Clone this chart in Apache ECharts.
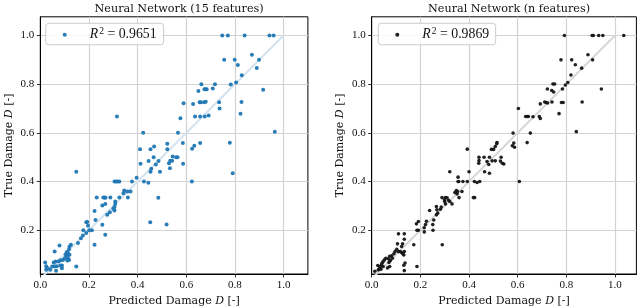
<!DOCTYPE html>
<html><head><meta charset="utf-8">
<script src="https://cdn.jsdelivr.net/npm/echarts@6/dist/echarts.min.js"></script>
<style>html,body{margin:0;padding:0;background:#fff}#c{width:640px;height:308px}</style>
</head><body><div id="c"></div>
<script>
const titles = ['Neural Network (15 features)', 'Neural Network (n features)'];
const r2Values = ['0.9651', '0.9869'];
const seriesNames = ['r2_15', 'r2_n'];
const xTickValues = [0.0, 0.2, 0.4, 0.6, 0.8, 1.0];
const yTickValues = [0.2, 0.4, 0.6, 0.8, 1.0];
const identityLine = [[0, 0], [1, 1]];

// [predicted, true] — 15 features
const points15 = [
[0.748,1.0],[0.771,1.0],[0.840,1.0],[0.942,1.0],[0.959,1.0],
[0.756,0.9],[0.870,0.921],[0.799,0.9],[0.899,0.9],[0.812,0.879],[0.890,0.867],[0.828,0.837],[0.805,0.807],[0.783,0.799],[0.718,0.8],[0.662,0.8],
[0.650,0.772],[0.675,0.779],[0.679,0.779],[0.684,0.779],[0.709,0.782],[0.916,0.777],
[0.655,0.726],[0.660,0.726],[0.673,0.726],[0.680,0.728],[0.628,0.719],[0.589,0.722],[0.735,0.726],[0.737,0.700],[0.827,0.727],[0.823,0.679],
[0.636,0.667],[0.657,0.667],[0.676,0.667],[0.692,0.671],[0.576,0.660],[0.315,0.667],[0.964,0.605],[0.566,0.6],[0.423,0.6],
[0.586,0.558],[0.657,0.558],[0.633,0.547],[0.624,0.535],[0.522,0.555],[0.468,0.544],[0.410,0.533],[0.453,0.533],[0.522,0.533],[0.779,0.559],
[0.544,0.503],[0.558,0.5],[0.564,0.5],[0.466,0.5],[0.542,0.485],[0.534,0.485],[0.486,0.484],[0.445,0.484],[0.529,0.475],[0.412,0.473],[0.475,0.470],[0.587,0.473],[0.456,0.453],[0.533,0.455],[0.453,0.44],[0.492,0.44],[0.148,0.44],[0.396,0.416],[0.791,0.434],
[0.305,0.4],[0.311,0.4],[0.318,0.4],[0.325,0.4],[0.377,0.4],[0.426,0.4],[0.444,0.395],[0.623,0.4],
[0.345,0.363],[0.342,0.352],[0.358,0.359],[0.371,0.359],[0.360,0.334],[0.325,0.334],[0.308,0.318],[0.308,0.308],[0.305,0.295],[0.305,0.281],[0.300,0.288],[0.286,0.274],[0.275,0.264],[0.288,0.334],[0.267,0.308],[0.268,0.333],[0.259,0.334],[0.264,0.334],[0.232,0.334],[0.255,0.301],[0.223,0.279],[0.227,0.242],[0.193,0.234],[0.255,0.222],[0.485,0.333],[0.452,0.233],[0.519,0.223],[0.267,0.181],[0.223,0.140],
[0.177,0.2],[0.201,0.2],[0.212,0.2],[0.196,0.218],[0.189,0.233],[0.189,0.188],[0.175,0.178],[0.167,0.167],[0.155,0.147],[0.126,0.140],[0.120,0.133],[0.118,0.122],[0.079,0.137],[0.059,0.112],[0.109,0.110],[0.114,0.106],[0.104,0.101],[0.113,0.099],[0.120,0.099],[0.107,0.092],[0.101,0.085],[0.114,0.085],[0.093,0.078],[0.082,0.077],[0.118,0.078],[0.111,0.075],[0.075,0.071],[0.063,0.071],[0.055,0.067],[0.020,0.067],[0.082,0.055],[0.089,0.055],[0.089,0.044],[0.068,0.052],[0.059,0.051],[0.049,0.051],[0.024,0.052],[0.031,0.044],[0.024,0.037],[0.041,0.037],[0.065,0.033],[0.148,0.051]
];

// [predicted, true] — n features
const pointsN = [
[0.792,1.0],[0.906,1.0],[0.911,1.0],[0.933,1.0],[0.950,1.0],[1.036,1.0],
[0.778,0.9],[0.822,0.9],[0.889,0.921],[0.908,0.9],[0.837,0.880],[0.863,0.866],[0.819,0.838],[0.806,0.807],[0.796,0.797],[0.745,0.801],[0.752,0.801],[0.784,0.780],[0.722,0.780],[0.740,0.774],[0.748,0.768],[0.944,0.780],
[0.693,0.719],[0.711,0.727],[0.717,0.725],[0.723,0.723],[0.741,0.727],[0.780,0.725],[0.787,0.725],[0.865,0.727],[0.603,0.700],[0.770,0.679],[0.633,0.667],[0.639,0.667],[0.644,0.667],[0.663,0.666],[0.689,0.667],[0.693,0.659],[0.841,0.605],[0.652,0.599],[0.581,0.599],[0.639,0.560],[0.584,0.558],[0.578,0.547],[0.587,0.541],
[0.393,0.533],[0.441,0.5],[0.441,0.486],[0.440,0.475],[0.462,0.5],[0.484,0.5],[0.464,0.440],[0.484,0.434],[0.474,0.482],[0.481,0.470],[0.495,0.485],[0.508,0.485],[0.492,0.532],[0.501,0.532],[0.508,0.544],[0.514,0.555],[0.515,0.560],[0.532,0.5],[0.529,0.484],[0.537,0.475],[0.543,0.472],[0.400,0.440],[0.321,0.440],[0.355,0.418],[0.355,0.4],[0.358,0.4],[0.375,0.4],[0.393,0.4],[0.422,0.4],[0.433,0.396],[0.444,0.4],[0.418,0.334],[0.423,0.334],[0.607,0.4],
[0.342,0.355],[0.348,0.363],[0.353,0.359],[0.351,0.349],[0.359,0.334],[0.371,0.359],[0.289,0.334],[0.303,0.334],[0.310,0.333],[0.299,0.325],[0.300,0.318],[0.316,0.323],[0.321,0.318],[0.330,0.308],[0.303,0.308],[0.286,0.295],[0.282,0.286],[0.266,0.297],[0.268,0.284],[0.271,0.270],[0.266,0.263],[0.238,0.281],[0.255,0.242],[0.251,0.223],[0.252,0.2],[0.225,0.237],[0.221,0.223],[0.216,0.210],[0.216,0.193],[0.192,0.236],[0.184,0.226],[0.186,0.2],[0.192,0.2],[0.173,0.140],[0.186,0.051],[0.290,0.140],
[0.134,0.034],[0.137,0.065],[0.132,0.056],[0.110,0.185],[0.134,0.185],[0.134,0.163],[0.127,0.144],[0.123,0.133],[0.106,0.144],[0.103,0.122],[0.110,0.112],[0.117,0.112],[0.123,0.108],[0.128,0.103],[0.132,0.098],[0.134,0.112],[0.096,0.112],[0.091,0.103],[0.082,0.095],[0.085,0.085],[0.074,0.093],[0.069,0.082],[0.077,0.075],[0.071,0.067],[0.058,0.085],[0.052,0.078],[0.047,0.071],[0.042,0.064],[0.040,0.057],[0.035,0.051],[0.032,0.042],[0.027,0.037],[0.038,0.040],[0.025,0.055],[0.047,0.051],[0.013,0.031],[0.065,0.045],[0.074,0.051]
];

const FONT = 'Liberation Serif';
const WFONT = 'DejaVu Serif';
const chart = echarts.init(document.getElementById('c'), null, {renderer: 'canvas'});

const grids = [
  {left: 40.3, top: 16.8, width: 267.6, height: 257.2},
  {left: 371.7, top: 16.8, width: 264.7, height: 257.2}
];
const xMax = [1.1, 1.088];
const yMin = 0.02, yMax = 1.077;

const nameRich = {
  n: {fontFamily: WFONT, fontSize: 11, color: '#111'},
  i: {fontFamily: WFONT, fontSize: 11, fontStyle: 'italic', color: '#111'}
};

function xAxis(i) {
  return {
    type: 'value', gridIndex: i, min: 0, max: xMax[i],
    name: '{n|Predicted Damage }{i|D}{n| [-]}', nameLocation: 'middle', nameGap: 20.5,
    nameTextStyle: {rich: nameRich},
    axisLine: {show: true, lineStyle: {color: '#000', width: 1}},
    axisTick: {show: true, length: 3.5, customValues: xTickValues, lineStyle: {color: '#000', width: 0.8}},
    axisLabel: {customValues: xTickValues, margin: 6, fontFamily: FONT, fontSize: 11, color: '#111', formatter: v => v.toFixed(1)},
    splitLine: {show: true, lineStyle: {color: '#d2d2d2', width: 1.2}}
  };
}
function yAxis(i) {
  return {
    type: 'value', gridIndex: i, min: yMin, max: yMax,
    name: '{n|True Damage }{i|D}{n| [-]}', nameLocation: 'middle', nameGap: 26,
    nameTextStyle: {rich: nameRich},
    axisLine: {show: true, lineStyle: {color: '#000', width: 1}},
    axisTick: {show: true, length: 3.5, customValues: yTickValues, lineStyle: {color: '#000', width: 0.8}},
    axisLabel: {customValues: yTickValues, margin: 6, fontFamily: FONT, fontSize: 11, color: '#111', formatter: v => v.toFixed(1)},
    splitLine: {show: true, lineStyle: {color: '#d2d2d2', width: 1.2}}
  };
}

function legend(i, left, padL, textPad, padR) {
  return {
    data: [seriesNames[i]], left: left, top: 23.3, orient: 'horizontal',
    icon: 'circle', itemWidth: 4, itemHeight: 4,
    padding: [3, padR, 3, padL],
    backgroundColor: 'rgba(255,255,255,0.85)', borderColor: '#cccccc', borderWidth: 1, borderRadius: 3,
    formatter: () => '{i|R}{s|2}{e|=}{t|' + r2Values[i] + '}',
    textStyle: {
      fontFamily: FONT, fontSize: 13.8, color: '#111',
      rich: {
        i: {fontFamily: FONT, fontSize: 13.8, fontStyle: 'italic', color: '#111', padding: [0, 0, 0, textPad]},
        s: {fontFamily: FONT, fontSize: 9.5, color: '#111', padding: [0, 0, 7, 1]},
        e: {fontFamily: FONT, fontSize: 13.8, color: '#111', padding: [0, 3.5, 0, 3.5]},
        t: {fontFamily: FONT, fontSize: 13.8, color: '#111'}
      }
    }
  };
}

const option = {
  animation: false,
  backgroundColor: '#fff',
  title: [
    {text: titles[0], left: 40.3 + 267.6 / 2, textAlign: 'center', top: -1, textStyle: {fontFamily: WFONT, fontSize: 11.2, fontWeight: 'normal', color: '#111'}},
    {text: titles[1], left: 371.7 + 264.7 / 2, textAlign: 'center', top: -1, textStyle: {fontFamily: WFONT, fontSize: 11.2, fontWeight: 'normal', color: '#111'}}
  ],
  grid: grids.map(g => Object.assign({show: true, borderColor: '#000', borderWidth: 1, backgroundColor: 'transparent', containLabel: false, outerBoundsMode: 'none'}, g)),
  xAxis: [xAxis(0), xAxis(1)],
  yAxis: [yAxis(0), yAxis(1)],
  legend: [legend(0, 45.7, 17, 18, 7), legend(1, 378.3, 17, 18, 6.5)],
  series: [
    {type: 'line', xAxisIndex: 0, yAxisIndex: 0, data: identityLine, showSymbol: false, silent: true, z: 1,
     lineStyle: {color: '#d3e3f0', width: 2}, clip: true},
    {type: 'scatter', name: seriesNames[0], xAxisIndex: 0, yAxisIndex: 0, data: points15, symbolSize: 4, z: 3,
     itemStyle: {color: '#1f77b4', opacity: 0.95}},
    {type: 'line', xAxisIndex: 1, yAxisIndex: 1, data: identityLine, showSymbol: false, silent: true, z: 1,
     lineStyle: {color: '#d6d6d6', width: 2}, clip: true},
    {type: 'scatter', name: seriesNames[1], xAxisIndex: 1, yAxisIndex: 1, data: pointsN, symbolSize: 3.6, z: 3,
     itemStyle: {color: '#151515', opacity: 0.95}}
  ]
};
chart.setOption(option);
</script>
</body></html>
